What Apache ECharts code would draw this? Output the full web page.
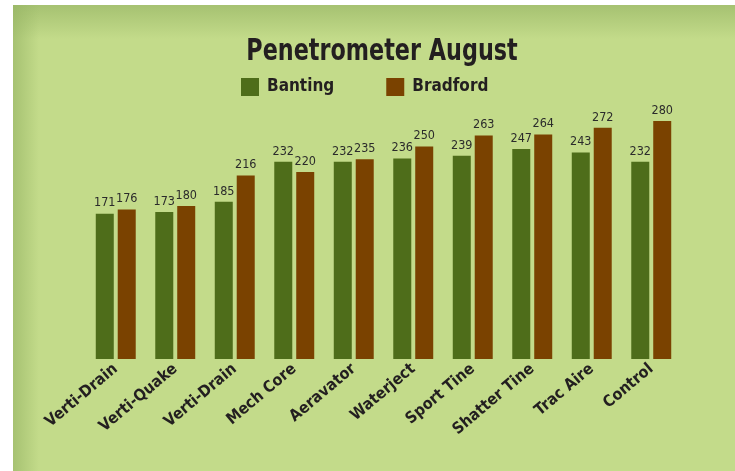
<!DOCTYPE html>
<html style="height: 100%">
   <head>
       <meta charset="utf-8">
   </head>
   <body style="height: 100%; margin: 0; background: #fff">
       <div id="container" style="width: 735px; height: 471px"></div>
       <script type="text/javascript" src="https://cdn.jsdelivr.net/npm/echarts@6/dist/echarts.min.js"></script>
       <script type="text/javascript">
var dom = document.getElementById("container");
var myChart = echarts.init(dom);

var categories = ['Verti-Drain', 'Verti-Quake', 'Verti-Drain', 'Mech Core', 'Aeravator',
    'Waterject', 'Sport Tine', 'Shatter Tine', 'Trac Aire', 'Control'];
var banting = [171, 173, 185, 232, 232, 236, 239, 247, 243, 232];
var bradford = [176, 180, 216, 220, 235, 250, 263, 264, 272, 280];

var FONT = '"Liberation Sans Narrow", "DejaVu Sans Condensed", sans-serif';
var INK = '#231f20';

var option = {
    backgroundColor: '#ffffff',
    textStyle: { fontFamily: FONT },
    graphic: [
        // green panel
        { type: 'rect', shape: { x: 13, y: 5, width: 722, height: 466 }, style: { fill: '#c3db8a' }, z: -10 },
        // soft shading along top and left edges
        { type: 'rect', shape: { x: 13, y: 5, width: 722, height: 34 }, z: -9,
          style: { fill: new echarts.graphic.LinearGradient(0, 0, 0, 1, [
              { offset: 0, color: 'rgba(150,180,100,0.65)' },
              { offset: 1, color: 'rgba(150,180,100,0)' }]) } },
        { type: 'rect', shape: { x: 13, y: 5, width: 26, height: 466 }, z: -9,
          style: { fill: new echarts.graphic.LinearGradient(0, 0, 1, 0, [
              { offset: 0, color: 'rgba(150,180,100,0.65)' },
              { offset: 1, color: 'rgba(150,180,100,0)' }]) } },
        // title, squeezed to the condensed look of the original
        { type: 'text', x: 382, y: 36, scaleX: 0.8, z: 10,
          style: { text: 'Penetrometer August', fill: INK, align: 'center', verticalAlign: 'top',
                   font: 'bold 31px "DejaVu Sans Condensed", sans-serif' } }
    ],
    legend: {
        data: ['Banting', 'Bradford'],
        left: 241,
        top: 78,
        padding: 0,
        icon: 'rect',
        itemWidth: 18,
        itemHeight: 18,
        itemGap: 52,
        textStyle: { fontFamily: FONT, fontSize: 17, fontWeight: 'bold', color: INK, padding: [0, 0, 0, 3] }
    },
    grid: { left: 86, right: 54, top: 121, bottom: 112 },
    xAxis: {
        type: 'category',
        data: categories,
        axisLine: { show: false },
        axisTick: { show: false },
        axisLabel: {
            interval: 0,
            rotate: 40,
            margin: 8,
            fontFamily: FONT,
            fontSize: 16,
            fontWeight: 'bold',
            color: INK
        }
    },
    yAxis: {
        type: 'value',
        min: 0,
        max: 280,
        show: false,
        splitLine: { show: false }
    },
    series: [
        {
            name: 'Banting',
            type: 'bar',
            data: banting,
            barWidth: 18,
            barGap: '22%',
            itemStyle: { color: '#4e6d1a' },
            label: { show: true, position: 'top', distance: 4, fontFamily: FONT, fontSize: 12.5, color: '#2b2b2b' }
        },
        {
            name: 'Bradford',
            type: 'bar',
            data: bradford,
            barWidth: 18,
            itemStyle: { color: '#7a4200' },
            label: { show: true, position: 'top', distance: 4, fontFamily: FONT, fontSize: 12.5, color: '#2b2b2b' }
        }
    ]
};
myChart.setOption(option, true);
       </script>
   </body>
</html>
